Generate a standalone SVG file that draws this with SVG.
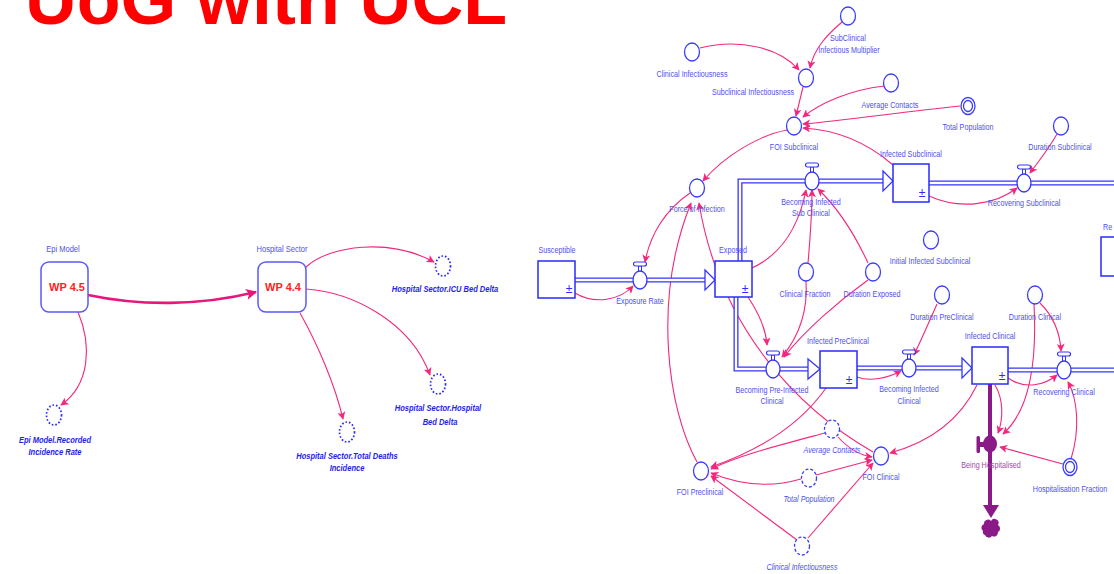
<svg xmlns="http://www.w3.org/2000/svg" xmlns:xlink="http://www.w3.org/1999/xlink" width="1114" height="574" viewBox="0 0 1114 574">
<style>
.t{font-family:"Liberation Sans",Arial,sans-serif;font-size:9px;fill:#4f4ff0;text-anchor:middle}
.it{font-style:italic}
.bi{font-family:"Liberation Sans",Arial,sans-serif;font-weight:bold;font-style:italic;font-size:9.4px;fill:#2222ee;text-anchor:middle}
.wp{font-family:"Liberation Sans",Arial,sans-serif;font-weight:bold;font-size:11px;fill:#ff2222;text-anchor:middle}
.pm{font-family:"Liberation Sans",Arial,sans-serif;font-size:12px;fill:#2a2aff;text-anchor:middle}
.aux{fill:#fff;stroke:#3c3cff;stroke-width:1.3}
.gh{fill:#fff;stroke:#3c3cff;stroke-width:1.3;stroke-dasharray:3 2}
.dot{fill:none;stroke:#2a2aff;stroke-width:1.7;stroke-dasharray:1.6 2}
.stock{fill:#fff;stroke:#2a2aff;stroke-width:1.5}
.mod{fill:#fff;stroke:#5a5aff;stroke-width:1.5}
.cn{fill:none;stroke:#f3287c;stroke-width:1.1;marker-end:url(#ah)}
.po{fill:none;stroke:#3535ff;stroke-width:5}
.pi{fill:none;stroke:#fff;stroke-width:2.4}
.fa{fill:#fff;stroke:#3535ff;stroke-width:1.3}
</style>
<defs>
<marker id="ah" viewBox="0 0 10 10" refX="9" refY="5" markerWidth="9" markerHeight="8" markerUnits="userSpaceOnUse" orient="auto"><path d="M0,0 L10,5 L0,10 L2.5,5 z" fill="#f3287c"/></marker>
<marker id="ahb" viewBox="0 0 10 10" refX="9" refY="5" markerWidth="12" markerHeight="11" markerUnits="userSpaceOnUse" orient="auto"><path d="M0,0 L10,5 L0,10 L2.5,5 z" fill="#e8157a"/></marker>
<g id="valve"><rect x="-1.5" y="-14" width="3" height="6" fill="#fff" stroke="#3535ff" stroke-width="1"/><rect x="-6.5" y="-18" width="13" height="4" rx="2" fill="#fff" stroke="#3535ff" stroke-width="1.2"/><ellipse cx="0" cy="0" rx="7" ry="9" fill="#fff" stroke="#3535ff" stroke-width="1.3"/></g>
</defs>

<text x="25" y="24" font-family="Liberation Sans,Arial,sans-serif" font-weight="bold" font-size="72" fill="#ff0000" textLength="482" lengthAdjust="spacingAndGlyphs">UoG with UCL</text>

<g id="connectors">
<path d="M88,295 C140,306 200,306 256,292" fill="none" stroke="#e8157a" stroke-width="2.6" marker-end="url(#ahb)"/>
<path class="cn" d="M306,267 C330,245 390,238 434,262"/>
<path class="cn" d="M306,289 C350,292 410,320 430,375"/>
<path class="cn" d="M300,313 C318,345 335,385 343,419"/>
<path class="cn" d="M78,312 C92,345 90,385 61,405"/>

<path class="cn" d="M700,48 C740,38 780,48 799,70"/>
<path class="cn" d="M842,22 C828,34 814,48 810,68"/>
<path class="cn" d="M803,87 L796,116"/>
<path class="cn" d="M884,86 C850,90 820,103 803,117"/>
<path class="cn" d="M960,106 C900,112 850,120 803,124"/>
<path class="cn" d="M893,165 C870,145 840,130 803,128"/>
<path class="cn" d="M787,130 C760,135 725,155 703,181"/>
<path class="cn" d="M690,193 C665,210 650,235 645,262"/>
<path class="cn" d="M575,293 C595,305 620,300 633,286"/>
<path class="cn" d="M697,462 C668,410 652,300 691,203"/>
<path class="cn" d="M873,452 C800,410 720,330 699,203"/>
<path class="cn" d="M752,268 C780,255 798,230 806,190"/>
<path class="cn" d="M808,263 C810,240 812,215 812,190"/>
<path class="cn" d="M868,263 C855,235 840,210 818,189"/>
<path class="cn" d="M929,196 C960,210 995,205 1017,188"/>
<path class="cn" d="M1057,134 C1048,150 1038,162 1030,173"/>
<path class="cn" d="M748,297 C760,315 766,330 767,345"/>
<path class="cn" d="M806,281 C808,310 800,335 782,357"/>
<path class="cn" d="M868,280 C840,300 805,330 784,357"/>
<path class="cn" d="M857,377 C870,382 888,378 901,371"/>
<path class="cn" d="M937,304 C930,320 922,338 914,355"/>
<path class="cn" d="M1008,378 C1025,390 1045,385 1057,375"/>
<path class="cn" d="M1040,303 C1052,315 1060,330 1061,351"/>
<path class="cn" d="M1071,459 C1080,430 1078,400 1068,382"/>
<path class="cn" d="M1034,304 C1037,360 1030,410 1003,434"/>
<path class="cn" d="M995,385 C1004,400 1003,420 998,433"/>
<path class="cn" d="M1063,464 L1000,447"/>
<path class="cn" d="M977,385 C960,420 930,442 890,453"/>
<path class="cn" d="M826,388 C800,425 760,450 711,467"/>
<path class="cn" d="M825,433 C780,445 740,455 711,469"/>
<path class="cn" d="M801,479 C770,488 740,485 711,473"/>
<path class="cn" d="M797,540 L711,476"/>
<path class="cn" d="M838,437 C848,448 858,455 872,457"/>
<path class="cn" d="M816,475 L872,460"/>
<path class="cn" d="M808,538 L873,463"/>
</g>

<g id="pipes">
<path class="po" d="M575,280 H705"/><path class="pi" d="M575,280 H706"/>
<polygon class="fa" points="705,270 715,280 705,290"/>
<path class="po" d="M740,261 V181 H883"/><path class="pi" d="M740,262 V181 H884"/>
<polygon class="fa" points="883,171 893,181 883,191"/>
<path class="po" d="M736,297 V369 H808"/><path class="pi" d="M736,296 V369 H809"/>
<polygon class="fa" points="808,359 820,369 808,379"/>
<path class="po" d="M857,368 H962"/><path class="pi" d="M856,368 H963"/>
<polygon class="fa" points="962,358 972,368 962,378"/>
<path class="po" d="M929,183 H1114"/><path class="pi" d="M928,183 H1114"/>
<path class="po" d="M1008,370 H1114"/><path class="pi" d="M1007,370 H1114"/>
<path d="M990,384 V506" stroke="#8b1a89" stroke-width="4" fill="none"/>
<polygon points="983,505 999,505 991,518" fill="#8b1a89"/>
</g>

<g id="epi-model"><text class="t" transform="translate(63,252) scale(.8,1)" style="font-size:9.4px">Epi Model</text><rect class="mod" x="41" y="262" width="47" height="50" rx="8"/><text class="wp" x="67" y="291">WP 4.5</text></g>
<g id="hospital-sector"><text class="t" transform="translate(282,252) scale(.8,1)" style="font-size:9.4px">Hospital Sector</text><rect class="mod" x="258" y="262" width="48" height="50" rx="8"/><text class="wp" x="283" y="291">WP 4.4</text></g>
<g id="icu-bed-delta"><ellipse class="dot" cx="443" cy="266" rx="7.5" ry="10"/><text class="bi" transform="translate(445,292) scale(.8,1)">Hospital Sector.ICU Bed Delta</text></g>
<g id="hospital-bed-delta"><ellipse class="dot" cx="438" cy="384" rx="7.5" ry="10"/><text class="bi" transform="translate(438,411) scale(.8,1)">Hospital Sector.Hospital</text><text class="bi" transform="translate(440,425) scale(.8,1)">Bed Delta</text></g>
<g id="total-deaths-incidence"><ellipse class="dot" cx="347" cy="432" rx="7.5" ry="10"/><text class="bi" transform="translate(347,459) scale(.8,1)">Hospital Sector.Total Deaths</text><text class="bi" transform="translate(347,471) scale(.8,1)">Incidence</text></g>
<g id="recorded-incidence-rate"><ellipse class="dot" cx="54" cy="415" rx="7.5" ry="10"/><text class="bi" transform="translate(55,443) scale(.8,1)">Epi Model.Recorded</text><text class="bi" transform="translate(55,455) scale(.8,1)">Incidence Rate</text></g>

<g id="subclinical-infectious-multiplier"><ellipse class="aux" cx="848" cy="16" rx="7.5" ry="9"/><text class="t" transform="translate(848,41) scale(.8,1)">SubClinical</text><text class="t" transform="translate(849,53) scale(.8,1)">Infectious Multiplier</text></g>
<g id="clinical-infectiousness"><ellipse class="aux" cx="692" cy="52" rx="7.5" ry="9"/><text class="t" transform="translate(692,77) scale(.8,1)">Clinical Infectiousness</text></g>
<g id="subclinical-infectiousness"><ellipse class="aux" cx="806" cy="78" rx="7.5" ry="9"/><text class="t" transform="translate(753,95) scale(.8,1)">Subclinical Infectiousness</text></g>
<g id="average-contacts"><ellipse class="aux" cx="891" cy="83" rx="7.5" ry="9"/><text class="t" transform="translate(890,108) scale(.8,1)">Average Contacts</text></g>
<g id="total-population"><ellipse class="aux" cx="968" cy="106" rx="7" ry="8.5"/><ellipse class="aux" cx="968" cy="106" rx="4.5" ry="5.5"/><text class="t" transform="translate(968,130) scale(.8,1)">Total Population</text></g>
<g id="foi-subclinical"><ellipse class="aux" cx="794" cy="126" rx="7.5" ry="9"/><text class="t" transform="translate(794,150) scale(.8,1)">FOI Subclinical</text></g>
<g id="duration-subclinical"><ellipse class="aux" cx="1061" cy="126" rx="7.5" ry="9"/><text class="t" transform="translate(1060,150) scale(.8,1)">Duration Subclinical</text></g>
<g id="infected-subclinical"><rect class="stock" x="893" y="164" width="36" height="38"/><text class="pm" x="922" y="197">±</text><text class="t" transform="translate(911,157) scale(.8,1)">Infected Subclinical</text></g>
<g id="becoming-infected-subclinical"><use xlink:href="#valve" x="812" y="181"/><text class="t" transform="translate(811,205) scale(.8,1)">Becoming Infected</text><text class="t" transform="translate(811,216) scale(.8,1)">Sub Clinical</text></g>
<g id="recovering-subclinical"><use xlink:href="#valve" x="1024" y="183"/><text class="t" transform="translate(1024,206) scale(.8,1)">Recovering Subclinical</text></g>
<g id="force-of-infection"><ellipse class="aux" cx="697" cy="188" rx="7.5" ry="9"/><text class="t" transform="translate(697,212) scale(.8,1)">Force of Infection</text></g>
<g id="recovered"><rect class="stock" x="1101" y="237" width="30" height="39"/><text class="t" transform="translate(1103,230) scale(.8,1)" style="text-anchor:start">Re</text></g>
<g id="susceptible"><rect class="stock" x="538" y="261" width="37" height="37"/><text class="pm" x="569" y="293">±</text><text class="t" transform="translate(557,253) scale(.8,1)">Susceptible</text></g>
<g id="exposure-rate"><use xlink:href="#valve" x="640" y="280"/><text class="t" transform="translate(640,304) scale(.8,1)">Exposure Rate</text></g>
<g id="exposed"><rect class="stock" x="715" y="261" width="37" height="36"/><text class="pm" x="745" y="293">±</text><text class="t" transform="translate(733,253) scale(.8,1)">Exposed</text></g>
<g id="initial-infected-subclinical"><ellipse class="aux" cx="931" cy="240" rx="7.5" ry="9"/><text class="t" transform="translate(930,264) scale(.8,1)">Initial Infected Subclinical</text></g>
<g id="clinical-fraction"><ellipse class="aux" cx="806" cy="272" rx="7.5" ry="9"/><text class="t" transform="translate(805,297) scale(.8,1)">Clinical Fraction</text></g>
<g id="duration-exposed"><ellipse class="aux" cx="873" cy="272" rx="7.5" ry="9"/><text class="t" transform="translate(872,297) scale(.8,1)">Duration Exposed</text></g>
<g id="duration-preclinical"><ellipse class="aux" cx="942" cy="295" rx="7.5" ry="9"/><text class="t" transform="translate(942,320) scale(.8,1)">Duration PreClinical</text></g>
<g id="duration-clinical"><ellipse class="aux" cx="1035" cy="295" rx="7.5" ry="9"/><text class="t" transform="translate(1035,320) scale(.8,1)">Duration Clinical</text></g>
<g id="infected-preclinical"><rect class="stock" x="820" y="351" width="37" height="37"/><text class="pm" x="849" y="384">±</text><text class="t" transform="translate(838,344) scale(.8,1)">Infected PreClinical</text></g>
<g id="infected-clinical"><rect class="stock" x="972" y="347" width="36" height="37"/><text class="pm" x="1002" y="380">±</text><text class="t" transform="translate(990,339) scale(.8,1)">Infected Clinical</text></g>
<g id="becoming-pre-infected-clinical"><use xlink:href="#valve" x="773" y="369"/><text class="t" transform="translate(772,393) scale(.8,1)">Becoming Pre-Infected</text><text class="t" transform="translate(772,404) scale(.8,1)">Clinical</text></g>
<g id="becoming-infected-clinical"><use xlink:href="#valve" x="909" y="368"/><text class="t" transform="translate(909,392) scale(.8,1)">Becoming Infected</text><text class="t" transform="translate(909,404) scale(.8,1)">Clinical</text></g>
<g id="recovering-clinical"><use xlink:href="#valve" x="1064" y="370"/><text class="t" transform="translate(1064,395) scale(.8,1)">Recovering Clinical</text></g>
<g id="average-contacts-ghost"><ellipse class="gh" cx="832" cy="429" rx="7.5" ry="9"/><text class="t it" transform="translate(832,453) scale(.8,1)">Average Contacts</text></g>
<g id="being-hospitalised"><rect x="976.5" y="436" width="3.5" height="17" rx="1.5" fill="#8b1a89"/><rect x="979" y="442" width="5" height="5" fill="#8b1a89"/><ellipse cx="990" cy="444" rx="7" ry="8.5" fill="#8b1a89"/><text class="t" transform="translate(991,468) scale(.8,1)" style="fill:#a04ca8">Being Hospitalised</text></g>
<g id="being-hospitalised-sink"><path d="M983,531 a4,4 0 0 1 1,-7 a4,4 0 0 1 7,-3 a4,4 0 0 1 7,4 a4,4 0 0 1 0,7 a4,4 0 0 1 -6,4 a4,4 0 0 1 -7,-1 a3,3 0 0 1 -2,-4 z" fill="#8b1a89"/></g>
<g id="foi-clinical"><ellipse class="aux" cx="881" cy="456" rx="7.5" ry="9"/><text class="t" transform="translate(881,480) scale(.8,1)">FOI Clinical</text></g>
<g id="hospitalisation-fraction"><ellipse class="aux" cx="1070" cy="467" rx="7" ry="8.5"/><ellipse class="aux" cx="1070" cy="467" rx="4.5" ry="5.5"/><text class="t" transform="translate(1070,492) scale(.8,1)">Hospitalisation Fraction</text></g>
<g id="foi-preclinical"><ellipse class="aux" cx="701" cy="471" rx="7.5" ry="9"/><text class="t" transform="translate(700,495) scale(.8,1)">FOI Preclinical</text></g>
<g id="total-population-ghost"><ellipse class="gh" cx="809" cy="478" rx="7.5" ry="9"/><text class="t it" transform="translate(809,502) scale(.8,1)">Total Population</text></g>
<g id="clinical-infectiousness-ghost"><ellipse class="gh" cx="802" cy="546" rx="7.5" ry="9"/><text class="t it" transform="translate(802,570) scale(.8,1)">Clinical Infectiousness</text></g>
</svg>
